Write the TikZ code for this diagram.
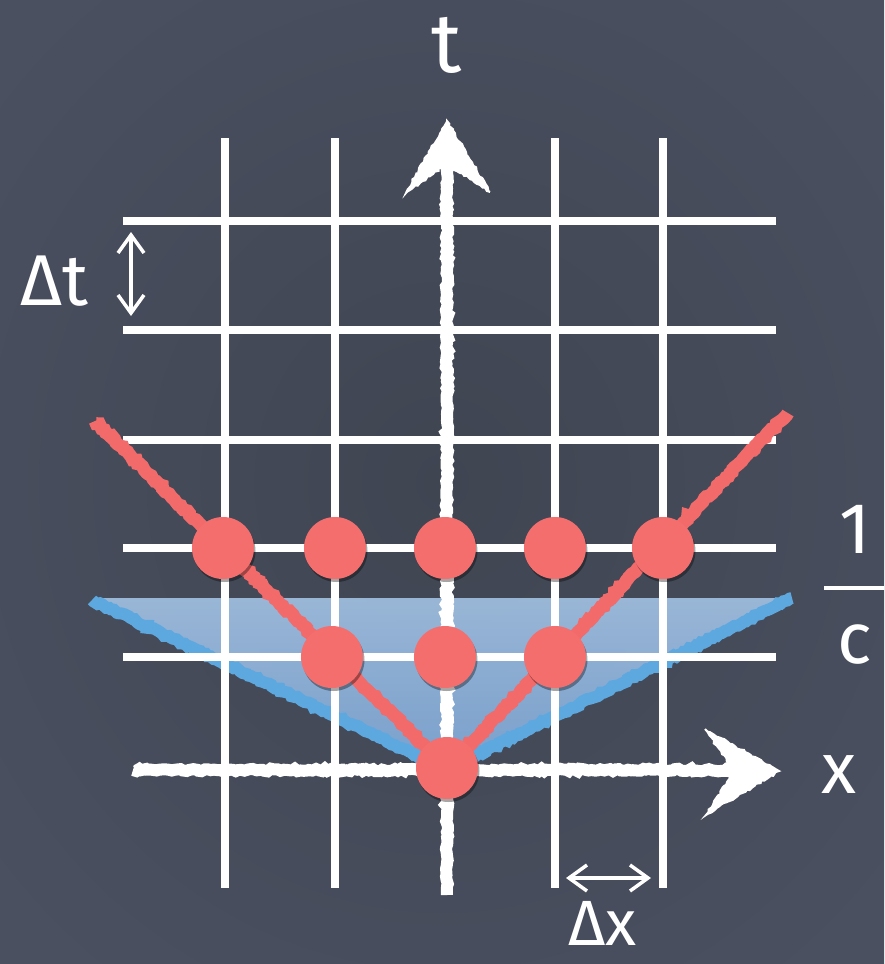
\documentclass[tikz,border=0pt]{standalone}
\usepackage{fontspec}
\setmainfont{Fira Sans}
\usetikzlibrary{decorations.pathmorphing,arrows.meta,shadows}
\definecolor{boardin}{HTML}{3F4551}
\definecolor{boardout}{HTML}{4A5060}
\definecolor{chalkred}{HTML}{F26A69}
\definecolor{dotred}{HTML}{F46E6D}
\definecolor{chalkblue}{HTML}{5EA8E0}
\definecolor{filltop}{HTML}{A3C2E4}
\definecolor{fillbot}{HTML}{7FA9D9}
\begin{document}
\begin{tikzpicture}[x=1pt,y=-1pt,
  gridline/.style={white,line width=8pt},
  chalkline/.style={line width=12pt,decorate,decoration={random steps,segment length=3pt,amplitude=1.3pt}},
  redchalk/.style={chalkline,draw=chalkred,line width=13pt},
  bluechalk/.style={chalkline,draw=chalkblue,line width=12pt},
  whitechalk/.style={chalkline,draw=white,line width=12pt},
  headchalk/.style={fill=white,draw=white,line width=2pt,decorate,decoration={random steps,segment length=3pt,amplitude=1.2pt}},
  dot/.style={circle,fill=dotred,minimum size=62pt,inner sep=0pt,
    drop shadow={shadow xshift=1.5pt,shadow yshift=-3pt,opacity=0.35,fill=black}},
  label/.style={white,inner sep=0pt,font=\fontsize{72}{72}\selectfont},
  dimarrow/.style={white,line width=3.5pt,{Straight Barb[length=18pt,width=26pt,line width=3.5pt]}-{Straight Barb[length=18pt,width=26pt,line width=3.5pt]}}
]
\useasboundingbox (0,0) rectangle (884,964);
% background
\begin{scope}
\clip (0,0) rectangle (884,964);
\shade[inner color=boardin,outer color=boardout] (-150,-150) rectangle (1034,1114);
\end{scope}

% key points
\coordinate (o) at (447,768);
\coordinate (bl) at (96,598);
\coordinate (br) at (786,598);
\coordinate (rl) at (95,421);
\coordinate (rr) at (788,413);

% blue light cone (area)
\shade[top color=filltop,bottom color=fillbot,opacity=0.9] (bl) -- (br) -- (o) -- cycle;
\draw[bluechalk] (92,600) -- ([yshift=-2pt]o);
\draw[bluechalk] (792,598) -- ([yshift=-2pt]o);

% grid
\foreach \gx in {225,335,555,663}
  \draw[gridline] (\gx,138) -- (\gx,888);
\foreach \gy in {221,330,440,548,657}
  \draw[gridline] (123,\gy) -- (776,\gy);

% red lines
\draw[redchalk] (rl) -- (o) -- (rr);

% axes
\coordinate (tb) at (447,895);
\coordinate (tt) at (447,162);
\coordinate (xl) at (133,770);
\coordinate (xr) at (740,770);
\draw[whitechalk] (tb) -- (tt);
\draw[whitechalk] (xl) -- (xr);
\filldraw[headchalk] (447,121) -- (490,192) -- (447,164) -- (406,193) -- cycle;
\filldraw[headchalk] (779,771) -- (705,729) -- (734,771) -- (706,815) -- cycle;

% lattice points
\node[dot] (d1) at (223,548) {};
\node[dot] (d2) at (335,548) {};
\node[dot] (d3) at (445,548) {};
\node[dot] (d4) at (555,548) {};
\node[dot] (d5) at (663,548) {};
\node[dot] (d6) at (332,657) {};
\node[dot] (d7) at (445,657) {};
\node[dot] (d8) at (555,657) {};
\node[dot] (d9) at (o) {};

% labels
\node[label,anchor=base,font=\fontsize{84}{84}\selectfont] (tlab) at (447,72) {t};
\node[label,anchor=base west] (dtlab) at (20,305) {Δt};
\node[label,anchor=base west,font=\fontsize{64}{64}\selectfont] (dxlab) at (568,945) {Δx};
\node[label,anchor=base] (one) at (855,553) {1};
\node[label,anchor=base] (clab) at (855,663) {c};
\node[label,anchor=base] (xlab) at (839,793) {x};
\coordinate (fl) at (824,588);
\coordinate (fr) at (884,588);
\draw[white,line width=4pt] (fl) -- (fr);

% dimension arrows
\coordinate (dta) at (131,232);
\coordinate (dtb) at (131,316);
\draw[dimarrow] (dta) -- (dtb);
\coordinate (dxa) at (566,878);
\coordinate (dxb) at (651,878);
\draw[dimarrow] (dxa) -- (dxb);
\end{tikzpicture}
\end{document}
